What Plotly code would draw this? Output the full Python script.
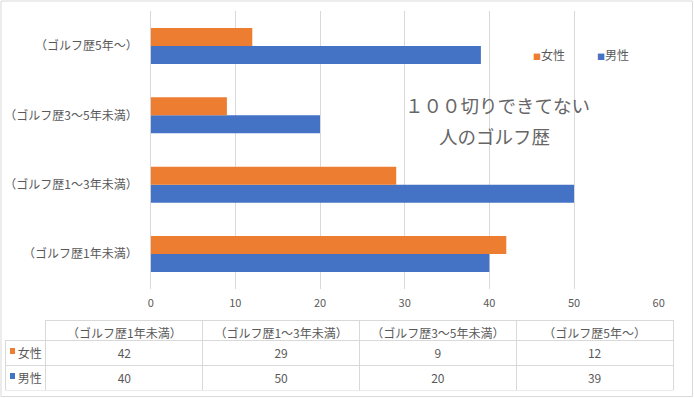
import plotly.graph_objects as go

W, H = 694, 398

categories = ["（ゴルフ歴1年未満）", "（ゴルフ歴1～3年未満）", "（ゴルフ歴3～5年未満）", "（ゴルフ歴5年～）"]
female = [42, 29, 9, 12]
male = [40, 50, 20, 39]
series_names = ["女性", "男性"]
colors = {"女性": "#ED7D31", "男性": "#4472C4"}
title_lines = ["１００切りできてない", "人のゴルフ歴"]
x_ticks = [0, 10, 20, 30, 40, 50, 60]

FONT = "Noto Sans CJK JP, Noto Sans, sans-serif"
TXT = "#595959"
GRID = "#D9D9D9"
CLEAR = "rgba(0,0,0,0)"

# table geometry (pixels)
TB_L, TB_R, TB_T, TB_B = 5, 673, 320.5, 390.5
HEAD_H, ROW_H = 20, 25

fig = go.Figure()
fig.add_trace(go.Bar(y=categories, x=male, orientation="h", name="男性",
                     marker=dict(color=colors["男性"], line=dict(width=0)),
                     showlegend=False, hoverinfo="x+name"))
fig.add_trace(go.Bar(y=categories, x=female, orientation="h", name="女性",
                     marker=dict(color=colors["女性"], line=dict(width=0)),
                     showlegend=False, hoverinfo="x+name"))

def key(name):
    return f"<span style='color:{colors[name]};font-size:8px'>■</span>{name}"

fig.add_trace(go.Table(
    domain=dict(x=[TB_L / W, TB_R / W], y=[(H - TB_B) / H, (H - TB_T) / H]),
    columnwidth=[41, 157, 157, 157, 157],
    header=dict(
        values=[""] + categories,
        height=HEAD_H,
        align=["left"] + ["center"] * 4,
        font=dict(family=FONT, size=12, color=TXT),
        fill=dict(color=CLEAR),
        line=dict(color=[CLEAR] + [GRID] * 4, width=1),
    ),
    cells=dict(
        values=[["\u2009\u2009" + n for n in series_names]]
               + [[female[i], male[i]] for i in range(len(categories))],
        height=ROW_H,
        align=["left"] + ["center"] * 4,
        font=dict(family=FONT, size=12, color=TXT),
        fill=dict(color=CLEAR),
        line=dict(color=GRID, width=1),
    ),
))

# legend keys inside the table's row-label column, placed on their own small axes
fig.add_trace(go.Scatter(
    x=[0, 0], y=series_names, mode="markers",
    marker=dict(symbol="square", size=6, color=[colors[n] for n in series_names], line=dict(width=0)),
    xaxis="x2", yaxis="y2", showlegend=False, hoverinfo="skip",
))

fig.update_layout(
    width=W, height=H, autosize=False,
    margin=dict(l=0, r=0, t=0, b=0, pad=0, autoexpand=False),
    paper_bgcolor="white", plot_bgcolor="white",
    barmode="group", bargap=0.48, bargroupgap=0,
    font=dict(family=FONT, color=TXT),
    showlegend=False,
    xaxis=dict(
        domain=[150.7 / W, 658.7 / W],
        range=[0, 60], tickvals=x_ticks,
        showgrid=True, gridcolor=GRID, gridwidth=1,
        zeroline=True, zerolinecolor=GRID, zerolinewidth=1,
        showline=False, ticks="", automargin=False,
        tickfont=dict(size=11, color=TXT), ticklabelstandoff=6,
    ),
    yaxis=dict(
        domain=[(H - 288.7) / H, (H - 11.3) / H],
        type="category", categoryorder="array", categoryarray=categories,
        showgrid=False, zeroline=False, showline=False, ticks="", automargin=False,
        tickfont=dict(size=12, color=TXT), ticklabelstandoff=12,
    ),
    xaxis2=dict(domain=[10 / W, 15 / W], range=[-0.5, 0.5], visible=False, fixedrange=True),
    yaxis2=dict(domain=[(H - TB_B + 2) / H, (H - TB_T - HEAD_H + 2) / H],
                type="category", categoryorder="array", categoryarray=series_names[::-1],
                range=[-0.5, 1.5], autorange=False,
                visible=False, fixedrange=True, anchor="x2"),
    shapes=[dict(type="rect", xref="paper", yref="paper",
                 x0=1 / W, x1=(W - 1.5) / W, y0=1.5 / H, y1=(H - 1) / H,
                 line=dict(color=GRID, width=1), fillcolor=CLEAR, layer="below")],
    annotations=[
        dict(text=title_lines[0], x=497 / W, y=(H - 105) / H, xref="paper", yref="paper",
             xanchor="center", yanchor="middle",
             showarrow=False, font=dict(size=18.5, color="#666666", family=FONT)),
        dict(text=title_lines[1], x=494 / W, y=(H - 136) / H, xref="paper", yref="paper",
             xanchor="center", yanchor="middle",
             showarrow=False, font=dict(size=18.5, color="#666666", family=FONT)),
        dict(text=key("女性"), x=531 / W, y=(H - 55) / H, xref="paper", yref="paper",
             xanchor="left", yanchor="middle", showarrow=False,
             font=dict(size=12, color=TXT, family=FONT)),
        dict(text=key("男性"), x=595 / W, y=(H - 55) / H, xref="paper", yref="paper",
             xanchor="left", yanchor="middle", showarrow=False,
             font=dict(size=12, color=TXT, family=FONT)),
    ],
)

fig.write_html(
    "out.html",
    config={"displayModeBar": False, "responsive": False},
    post_script="document.body.style.margin='0';document.body.style.overflow='hidden';"
                "document.documentElement.style.overflow='hidden';",
)
